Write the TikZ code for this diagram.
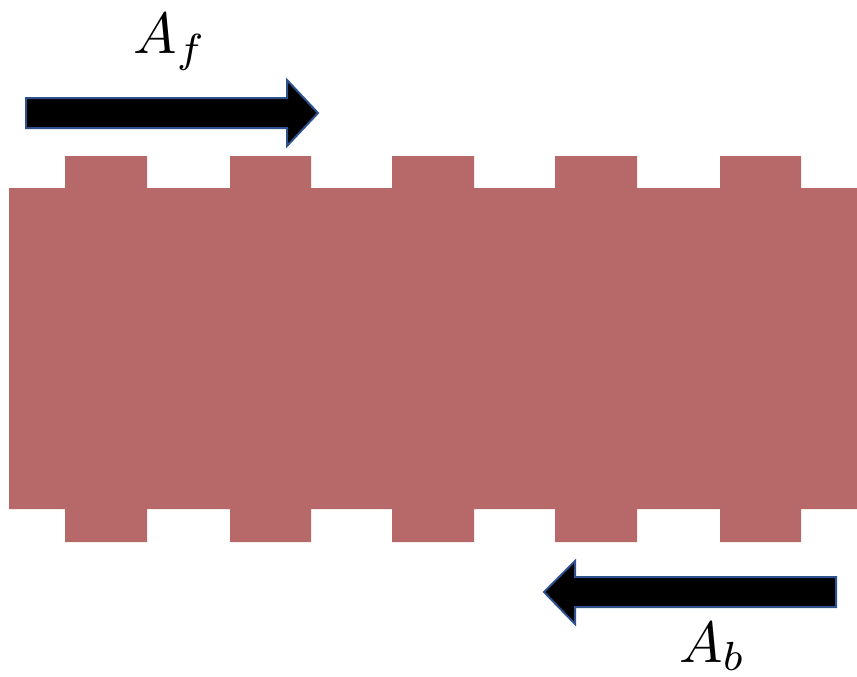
\documentclass[tikz,border=0pt]{standalone}
\usepackage{amsmath}
\definecolor{slab}{RGB}{183,105,105}
\definecolor{arrowedge}{RGB}{47,82,143}
\begin{document}
\begin{tikzpicture}[x=1pt,y=-1pt,
  wave/.style={fill=black,draw=arrowedge,line width=2pt,line join=miter},
  lbl/.style={inner sep=0pt,anchor=base west}]
\useasboundingbox (0,0) rectangle (857,677);
% grating slab with teeth
\fill[slab] (9,188)
  -- (65,188) -- (65,156) -- (147,156) -- (147,188)
  -- (230,188) -- (230,156) -- (311,156) -- (311,188)
  -- (392,188) -- (392,156) -- (474,156) -- (474,188)
  -- (555,188) -- (555,156) -- (637,156) -- (637,188)
  -- (720,188) -- (720,156) -- (801,156) -- (801,188)
  -- (857,188) -- (857,509)
  -- (801,509) -- (801,542) -- (720,542) -- (720,509)
  -- (637,509) -- (637,542) -- (555,542) -- (555,509)
  -- (474,509) -- (474,542) -- (392,542) -- (392,509)
  -- (311,509) -- (311,542) -- (230,542) -- (230,509)
  -- (147,509) -- (147,542) -- (65,542) -- (65,509)
  -- (9,509) -- cycle;
% forward arrow
\draw[wave] (26,98) -- (287,98) -- (287,80) -- (318,113) -- (287,146) -- (287,128) -- (26,128) -- cycle;
% backward arrow
\draw[wave] (836,577) -- (575,577) -- (575,561) -- (544,592) -- (575,624) -- (575,607) -- (836,607) -- cycle;
% labels
\node[lbl] (af) at (133,54) {\scalebox{5.8}{$A_f$}};
\node[lbl] (ab) at (679,662) {\scalebox{5.8}{$A_b$}};
\end{tikzpicture}
\end{document}
